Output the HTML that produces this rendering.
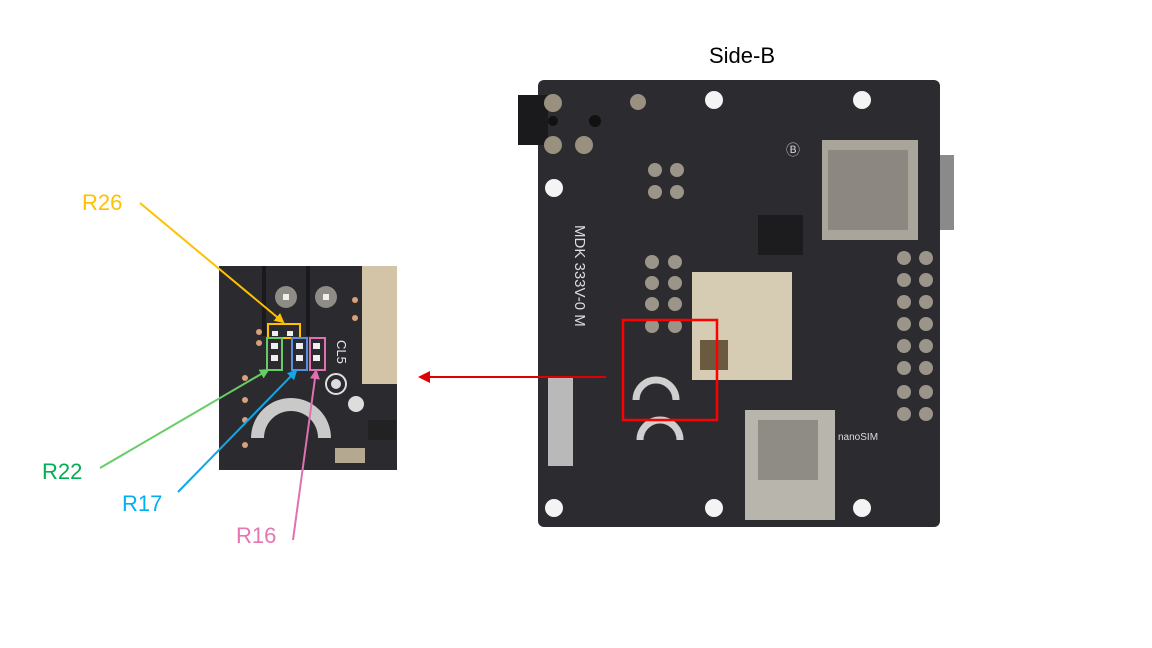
<!DOCTYPE html>
<html><head><style>
html,body{margin:0;padding:0;background:#fff;}
svg{display:block}
text{font-family:"Liberation Sans",Arial,sans-serif}
</style></head><body>
<svg width="1152" height="648" viewBox="0 0 1152 648" xmlns="http://www.w3.org/2000/svg">
<defs>
<marker id="ar" markerWidth="8" markerHeight="8" refX="6" refY="4" orient="auto" markerUnits="userSpaceOnUse"><path d="M0,0 L8,4 L0,8 z" fill="context-stroke"/></marker>
<marker id="ao" markerWidth="10" markerHeight="10" refX="8" refY="5" orient="auto" markerUnits="userSpaceOnUse"><path d="M0,0 L10,5 L0,10 z" fill="#ffc000"/></marker>
<marker id="ag" markerWidth="10" markerHeight="10" refX="8" refY="5" orient="auto" markerUnits="userSpaceOnUse"><path d="M0,0 L10,5 L0,10 z" fill="#66cc66"/></marker>
<marker id="ab" markerWidth="10" markerHeight="10" refX="8" refY="5" orient="auto" markerUnits="userSpaceOnUse"><path d="M0,0 L10,5 L0,10 z" fill="#10a8e8"/></marker>
<marker id="ap" markerWidth="10" markerHeight="10" refX="8" refY="5" orient="auto" markerUnits="userSpaceOnUse"><path d="M0,0 L10,5 L0,10 z" fill="#e070b0"/></marker>
<marker id="arr" markerWidth="12" markerHeight="12" refX="10" refY="6" orient="auto" markerUnits="userSpaceOnUse"><path d="M0,0 L12,6 L0,12 z" fill="#e00000"/></marker>
</defs>

<text x="742" y="63" font-size="22" text-anchor="middle" fill="#000">Side-B</text>

<!-- board -->
<rect x="538" y="80" width="402" height="447" rx="6" fill="#2b2b30"/>
<rect x="518" y="95" width="30" height="50" fill="#1a1a1c"/>
<g fill="#f4f4f4">
<circle cx="714" cy="100" r="9"/><circle cx="862" cy="100" r="9"/>
<circle cx="554" cy="188" r="9"/><circle cx="714" cy="508" r="9"/>
<circle cx="862" cy="508" r="9"/><circle cx="554" cy="508" r="9"/>
</g>
<g fill="#9a9080"><circle cx="553" cy="103" r="9"/><circle cx="553" cy="145" r="9"/><circle cx="584" cy="145" r="9"/><circle cx="638" cy="102" r="8"/></g>
<circle cx="595" cy="121" r="6" fill="#111"/><circle cx="553" cy="121" r="5" fill="#111"/>
<rect x="822" y="140" width="96" height="100" fill="#aaa59a"/>
<rect x="828" y="150" width="80" height="80" fill="#8c8780"/>
<rect x="940" y="155" width="14" height="75" fill="#8a8a8a"/>
<rect x="692" y="272" width="100" height="108" fill="#d6cbb3"/>
<rect x="700" y="340" width="28" height="30" fill="#6b5a40"/>
<rect x="745" y="410" width="90" height="110" fill="#b8b5ad"/>
<rect x="758" y="420" width="60" height="60" fill="#8f8c86"/>
<rect x="548" y="378" width="25" height="88" fill="#b9b9b9"/>
<rect x="758" y="215" width="45" height="40" fill="#1c1c1e"/>
<g fill="#9b9488">
<circle cx="652" cy="262" r="7"/><circle cx="652" cy="283" r="7"/><circle cx="652" cy="304" r="7"/><circle cx="652" cy="326" r="7"/>
<circle cx="675" cy="262" r="7"/><circle cx="675" cy="283" r="7"/><circle cx="675" cy="304" r="7"/><circle cx="675" cy="326" r="7"/>
<circle cx="904" cy="258" r="7"/><circle cx="904" cy="280" r="7"/><circle cx="904" cy="302" r="7"/><circle cx="904" cy="324" r="7"/><circle cx="904" cy="346" r="7"/><circle cx="904" cy="368" r="7"/><circle cx="904" cy="392" r="7"/><circle cx="904" cy="414" r="7"/>
<circle cx="926" cy="258" r="7"/><circle cx="926" cy="280" r="7"/><circle cx="926" cy="302" r="7"/><circle cx="926" cy="324" r="7"/><circle cx="926" cy="346" r="7"/><circle cx="926" cy="368" r="7"/><circle cx="926" cy="392" r="7"/><circle cx="926" cy="414" r="7"/>
<circle cx="655" cy="170" r="7"/><circle cx="677" cy="170" r="7"/><circle cx="655" cy="192" r="7"/><circle cx="677" cy="192" r="7"/>
</g>
<path d="M636,400 A20,20 0 0 1 676,400" stroke="#cfcfcf" stroke-width="7" fill="none"/>
<path d="M640,440 A20,20 0 0 1 680,440" stroke="#cfcfcf" stroke-width="7" fill="none"/>
<text x="575" y="225" font-size="15" fill="#ddd" transform="rotate(90 575 225)" font-family="Liberation Mono">MDK 333V-0 M</text>
<text x="786" y="155" font-size="14" fill="#ccc">Ⓑ</text>
<text x="838" y="440" font-size="10" fill="#ddd">nanoSIM</text>

<rect x="623" y="320" width="94" height="100" fill="none" stroke="#ff0000" stroke-width="2.5"/>
<line x1="606" y1="377" x2="420" y2="377" stroke="#e00000" stroke-width="2" marker-end="url(#arr)"/>

<!-- inset -->
<rect x="219" y="266" width="178" height="204" fill="#2a2a2f"/>
<rect x="262" y="266" width="4" height="70" fill="#1a1a1d"/><rect x="306" y="266" width="4" height="70" fill="#1a1a1d"/>
<rect x="362" y="266" width="35" height="118" fill="#d3c4a8"/>
<g fill="#8e8c84"><circle cx="286" cy="297" r="11"/><circle cx="326" cy="297" r="11"/></g>
<g fill="#eee"><rect x="283" y="294" width="6" height="6"/><rect x="323" y="294" width="6" height="6"/></g>
<path d="M251,438 A40,40 0 0 1 331,438 L318,438 A27,27 0 0 0 264,438 Z" fill="#c9c9c9"/>
<circle cx="336" cy="384" r="10" fill="none" stroke="#ddd" stroke-width="2"/><circle cx="336" cy="384" r="5" fill="#ddd"/>
<circle cx="356" cy="404" r="8" fill="#ddd"/>
<rect x="335" y="448" width="30" height="15" fill="#b5a890"/>
<rect x="368" y="420" width="28" height="20" fill="#222"/>
<text x="337" y="340" font-size="13" fill="#e8e8e8" transform="rotate(90 337 340)">CL5</text>
<g fill="#eee"><rect x="272" y="331" width="6" height="5"/><rect x="287" y="331" width="6" height="5"/>
<rect x="271" y="343" width="7" height="6"/><rect x="271" y="355" width="7" height="6"/>
<rect x="296" y="343" width="7" height="6"/><rect x="296" y="355" width="7" height="6"/>
<rect x="313" y="343" width="7" height="6"/><rect x="313" y="355" width="7" height="6"/></g>
<g fill="#d9a07a"><circle cx="259" cy="332" r="3"/><circle cx="259" cy="343" r="3"/><circle cx="245" cy="378" r="3"/><circle cx="245" cy="400" r="3"/><circle cx="245" cy="420" r="3"/><circle cx="245" cy="445" r="3"/><circle cx="355" cy="300" r="3"/><circle cx="355" cy="318" r="3"/></g>
<rect x="268" y="324" width="32" height="14" fill="none" stroke="#ffc000" stroke-width="2"/>
<rect x="267" y="338" width="15" height="32" fill="none" stroke="#66cc66" stroke-width="2"/>
<rect x="292" y="338" width="15" height="32" fill="none" stroke="#5b8de0" stroke-width="2"/>
<rect x="310" y="338" width="15" height="32" fill="none" stroke="#e070b0" stroke-width="2"/>

<!-- labels -->
<text x="82" y="210" font-size="22" fill="#ffc000">R26</text>
<line x1="140" y1="203" x2="283" y2="322" stroke="#ffc000" stroke-width="2" marker-end="url(#ao)"/>
<text x="42" y="479" font-size="22" fill="#00b050">R22</text>
<line x1="100" y1="468" x2="268" y2="370" stroke="#66cc66" stroke-width="2" marker-end="url(#ag)"/>
<text x="122" y="511" font-size="22" fill="#00b0f0">R17</text>
<line x1="178" y1="492" x2="296" y2="371" stroke="#10a8e8" stroke-width="2" marker-end="url(#ab)"/>
<text x="236" y="543" font-size="22" fill="#e377b0">R16</text>
<line x1="293" y1="540" x2="316" y2="371" stroke="#e070b0" stroke-width="2" marker-end="url(#ap)"/>
</svg>
</body></html>
